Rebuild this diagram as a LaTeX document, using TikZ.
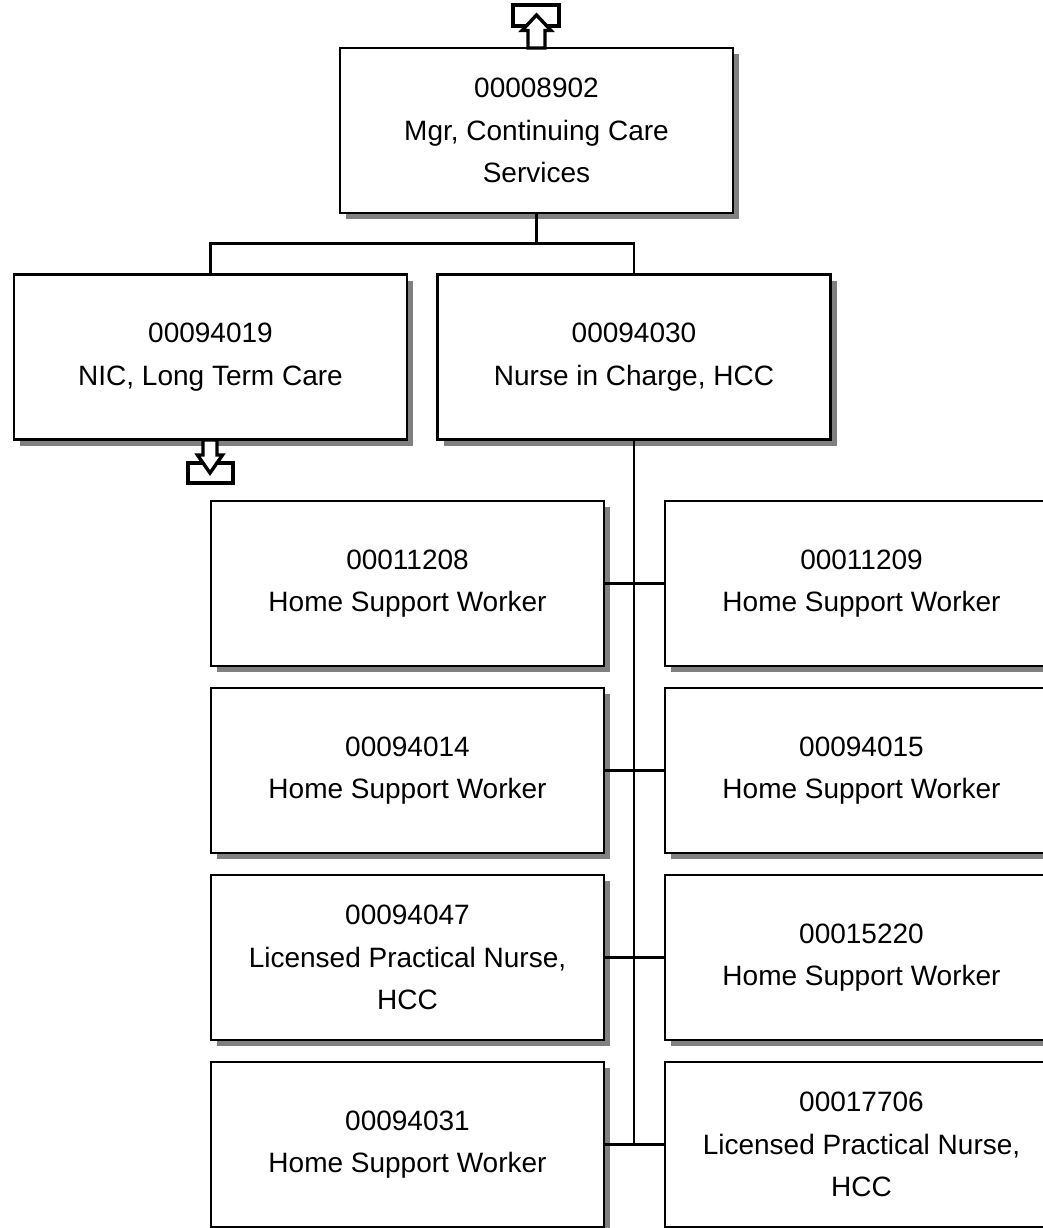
\documentclass[tikz,border=0pt]{standalone}
\usepackage{fontspec}
\setmainfont{Liberation Sans}
\usetikzlibrary{shadows}

\begin{document}
\begin{tikzpicture}[x=1pt, y=-1pt,
posbox/.style={draw, line width=2.8pt, fill=white, minimum width=393pt, minimum height=165pt,
  inner sep=0pt, align=center, font=\fontsize{28}{42.5}\selectfont,
  drop shadow={shadow xshift=6pt, shadow yshift=-6pt, fill=gray, opacity=1}},
link/.style={line width=2.5pt},
icon/.style={line width=3.4pt, fill=white, line join=miter}]
\useasboundingbox (0,0) rectangle (1043,1228);
\clip (0,0) rectangle (1043,1228);

\node[posbox] (mgr) at (536.5,130.5) {00008902\\Mgr, Continuing Care\\Services};
\node[posbox] (nic) at (210.5,357) {00094019\\NIC, Long Term Care};
\node[posbox] (nurse) at (634,357) {00094030\\Nurse in Charge, HCC};

\node[posbox] (l1) at (407.5,583.5) {00011208\\Home Support Worker};
\node[posbox] (r1) at (861.5,583.5) {00011209\\Home Support Worker};
\node[posbox] (l2) at (407.5,770.5) {00094014\\Home Support Worker};
\node[posbox] (r2) at (861.5,770.5) {00094015\\Home Support Worker};
\node[posbox] (l3) at (407.5,957.5) {00094047\\Licensed Practical Nurse,\\HCC};
\node[posbox] (r3) at (861.5,957.5) {00015220\\Home Support Worker};
\node[posbox] (l4) at (407.5,1144.5) {00094031\\Home Support Worker};
\node[posbox] (r4) at (861.5,1144.5) {00017706\\Licensed Practical Nurse,\\HCC};

\draw[link] (mgr.south) -- ++(0,29) -| (nic.north);
\draw[link] (mgr.south) -- ++(0,29) -| (nurse.north);
\draw[link] (nurse.south) -- (nurse.south |- r4.west);
\draw[link] (l1.east) -- (r1.west);
\draw[link] (l2.east) -- (r2.west);
\draw[link] (l3.east) -- (r3.west);
\draw[link] (l4.east) -- (r4.west);

\draw[icon] (513,5) rectangle (559,26);
\draw[icon] (536.5,15) -- (551,30.5) -- (545,30.5) -- (545,48) -- (528,48) -- (528,30.5) -- (522,30.5) -- cycle;

\draw[icon] (188,463) rectangle (233,483);
\draw[icon] (210,473) -- (222.5,455) -- (217,455) -- (217,440) -- (203,440) -- (203,455) -- (197.5,455) -- cycle;
\end{tikzpicture}
\end{document}
